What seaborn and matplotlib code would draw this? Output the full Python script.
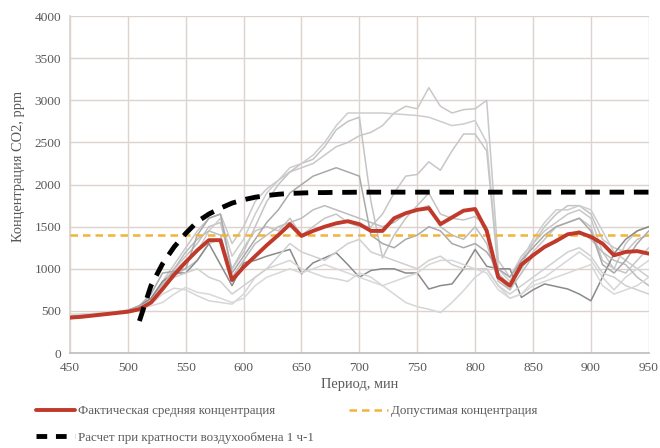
import numpy as np
import pandas as pd
import matplotlib
matplotlib.use("Agg")
import matplotlib.pyplot as plt
from matplotlib.lines import Line2D
import seaborn as sns

# Time axis, minutes
minutes = list(range(450, 951, 10))

# Average measured CO2 concentration, ppm
mean_conc = [420, 430, 445, 460, 475, 490, 520, 600, 760, 930,
             1080, 1220, 1340, 1340, 866, 1020, 1150, 1280, 1400, 1530,
             1390, 1450, 1500, 1540, 1565, 1530, 1450, 1450, 1600, 1660,
             1700, 1720, 1530, 1610, 1690, 1710, 1450, 900, 800, 1050,
             1160, 1260, 1330, 1410, 1430, 1380, 1300, 1160, 1200, 1210,
             1180]

# Calculated concentration at air exchange rate 1 h-1
calc_conc = [None, None, None, None, None, None, 380, 800, 1060, 1260,
             1420, 1560, 1650, 1720, 1780, 1820, 1850, 1870, 1885, 1895,
             1900, 1905, 1905, 1908, 1908, 1910, 1910, 1910, 1910, 1910,
             1910, 1910, 1910, 1910, 1910, 1910, 1910, 1910, 1910, 1910,
             1910, 1910, 1910, 1910, 1910, 1910, 1910, 1910, 1910, 1910,
             1910]

# Permissible concentration, ppm
limit_conc = 1400

# Individual sensor readings, ppm
sensor_01 = [440, 450, 460, 470, 490, 510, 560, 650, 850, 1050,
             1250, 1450, 1600, 1650, 1300, 1500, 1800, 1950, 2050, 2150,
             2200, 2250, 2350, 2450, 2500, 2580, 2620, 2700, 2850, 2930,
             2900, 3150, 2930, 2850, 2890, 2900, 3000, 1100, 900, 1150,
             1300, 1450, 1550, 1650, 1700, 1600, 1200, 1000, 1300, 1450,
             1500]
sensor_02 = [430, 440, 455, 465, 480, 500, 550, 640, 820, 1000,
             1150, 1300, 1500, 1550, 1000, 1200, 1500, 1800, 2000, 2150,
             2250, 2300, 2450, 2650, 2750, 2800, 1800, 1130, 1400, 1600,
             1750, 1900, 1650, 1600, 1580, 1620, 1500, 900, 750, 1050,
             1300, 1500, 1650, 1750, 1750, 1650, 1350, 1250, 1200, 1350,
             1400]
sensor_03 = [420, 435, 450, 460, 475, 495, 540, 620, 800, 980,
             1100, 1200, 1450, 1600, 1150, 1350, 1650, 1900, 2050, 2200,
             2250, 2350, 2500, 2700, 2850, 2850, 2850, 2850, 2840, 2830,
             2820, 2800, 2750, 2700, 2720, 2760, 2500, 1000, 850, 1100,
             1350, 1550, 1700, 1700, 1750, 1700, 1450, 1200, 1100, 1000,
             900]
sensor_04 = [410, 425, 440, 455, 470, 490, 530, 600, 750, 920,
             1000, 1100, 1300, 1350, 1000, 1250, 1450, 1500, 1450, 1600,
             1400, 1500, 1600, 1650, 1550, 1500, 1500, 1650, 1900, 2100,
             2120, 2270, 2170, 2400, 2600, 2600, 2400, 950, 800, 1000,
             1200, 1350, 1500, 1550, 1600, 1500, 1100, 1000, 950, 1100,
             1250]
sensor_05 = [420, 430, 445, 460, 480, 500, 560, 650, 850, 950,
             950, 1100, 1300, 1050, 800, 1070, 1100, 1150, 1190, 1230,
             940, 1070, 1130, 1190, 1050, 900, 980, 1000, 1000, 950,
             950, 760, 800, 820, 1000, 1230, 1030, 1000, 1000, 660,
             750, 820, 790, 760, 700, 620, 900, 1180, 1350, 1450,
             1500]
sensor_06 = [450, 455, 465, 475, 490, 510, 550, 580, 700, 770,
             750, 680, 620, 600, 580, 700, 900, 1000, 1050, 1100,
             1000, 950, 900, 880, 850, 950, 900, 800, 700, 600,
             550, 520, 480, 600, 740, 900, 1000, 800, 650, 700,
             850, 900, 1000, 1100, 1200, 1100, 900, 750, 900, 1000,
             1100]
sensor_07 = [440, 450, 460, 470, 485, 505, 550, 600, 800, 1000,
             1200, 1350, 1450, 1400, 900, 1100, 1300, 1400, 1500, 1550,
             1600, 1700, 1750, 1700, 1650, 1600, 1550, 1500, 1550, 1650,
             1700, 1750, 1500, 1400, 1350, 1500, 1300, 850, 750, 950,
             1150, 1250, 1350, 1400, 1450, 1350, 1200, 1100, 1050, 900,
             800]
sensor_08 = [430, 440, 450, 465, 480, 500, 540, 620, 780, 900,
             950, 1000, 900, 850, 700, 800, 900, 1000, 1150, 1300,
             1200, 1150, 1100, 1200, 1300, 1350, 1200, 1150, 1100, 1050,
             1000, 1100, 1150, 1050, 1000, 1000, 1000, 800, 700, 800,
             900, 1000, 1100, 1200, 1250, 1150, 950, 900, 800, 750,
             700]
sensor_09 = [460, 465, 470, 480, 490, 505, 530, 560, 600, 700,
             780, 720, 700, 650, 600, 650, 800, 900, 950, 1000,
             950, 1000, 1050, 1000, 950, 900, 850, 800, 850, 900,
             950, 1050, 1100, 1100, 1050, 1000, 950, 750, 650, 700,
             800, 850, 900, 950, 1000, 1050, 800, 700, 750, 800,
             900]
sensor_10 = [435, 445, 455, 470, 485, 505, 560, 700, 950, 970,
             1000, 1400, 1600, 1650, 950, 1150, 1350, 1550, 1700, 1900,
             2000, 2100, 2150, 2200, 2150, 2100, 1400, 1300, 1250, 1350,
             1400, 1500, 1450, 1300, 1250, 1300, 1200, 1000, 900, 1100,
             1250, 1400, 1500, 1550, 1600, 1450, 1050, 950, 1100, 1300,
             1450]

sensors = [sensor_01, sensor_02, sensor_03, sensor_04, sensor_05,
           sensor_06, sensor_07, sensor_08, sensor_09, sensor_10]
sensor_colors = ["#c8c8c8", "#c4c4c4", "#cdcdcd", "#c6c6c6", "#8a8a8a",
                 "#d6d6d6", "#bdbdbd", "#d0d0d0", "#d8d8d8", "#a9a9a9"]

x_ticks = list(range(450, 951, 50))
y_ticks = list(range(0, 4001, 500))
x_label = "Период, мин"
y_label = "Концентрация CO2, ppm"
label_mean = "Фактическая средняя концентрация"
label_limit = "Допустимая концентрация"
label_calc = "Расчет при кратности воздухообмена 1 ч-1"

sns.set_theme(style="white")
plt.rcParams["font.family"] = ["Liberation Serif", "DejaVu Serif"]

text_color = "#595959"
grid_color = "#dcd3cf"
red = "#c0392b"
yellow = "#f0b43a"

fig = plt.figure(figsize=(6.6, 4.48), dpi=100)
ax = fig.add_axes([0.106, 0.212, 0.877, 0.752])

for values, col in zip(sensors, sensor_colors):
    sns.lineplot(x=minutes, y=values, ax=ax, color=col, linewidth=1.1,
                 legend=False, zorder=2)

limit_line = [limit_conc] * len(minutes)
sns.lineplot(x=minutes, y=limit_line, ax=ax, color=yellow, linewidth=1.8,
             legend=False, zorder=3)
ax.lines[-1].set_dashes((3, 2))

sns.lineplot(x=minutes, y=mean_conc, ax=ax, color=red, linewidth=2.8,
             legend=False, zorder=4)

calc_series = pd.Series(calc_conc, dtype=float)
sns.lineplot(x=minutes, y=calc_series, ax=ax, color="black", linewidth=3.5,
             legend=False, zorder=5)
ax.lines[-1].set_dashes((3, 2))

ax.set_xlim(450, 950)
ax.set_ylim(0, 4000)
ax.set_xticks(x_ticks)
ax.set_yticks(y_ticks)
ax.grid(True, color=grid_color, linewidth=1.0)
ax.set_axisbelow(True)
for side in ["top", "right"]:
    ax.spines[side].set_visible(False)
ax.spines["left"].set_color(grid_color)
ax.spines["bottom"].set_color("#bfbfbf")
ax.tick_params(axis="both", labelsize=9.6, colors=text_color, length=0, pad=6.5)
ax.set_xlabel(x_label, fontsize=10.4, color=text_color, labelpad=3)
ax.set_ylabel(y_label, fontsize=10.4, color=text_color)
ax.yaxis.set_label_coords(-0.078, 0.555)

handles = [
    Line2D([0], [0], color=red, linewidth=2.8),
    Line2D([0], [0], color="black", linewidth=3.5, dashes=(2.2, 1.8)),
    Line2D([0], [0], color=yellow, linewidth=1.8, dashes=(3, 2)),
]
labels = [label_mean, label_calc, label_limit]
fig.legend(handles, labels, loc="upper left", bbox_to_anchor=(0.047, 0.107),
           ncol=2, frameon=False, fontsize=9.4, labelcolor=text_color,
           handlelength=3.0, handletextpad=0.2, columnspacing=2.7,
           labelspacing=1.1, borderaxespad=0)

fig.savefig("out.png", dpi=100, facecolor="white")
